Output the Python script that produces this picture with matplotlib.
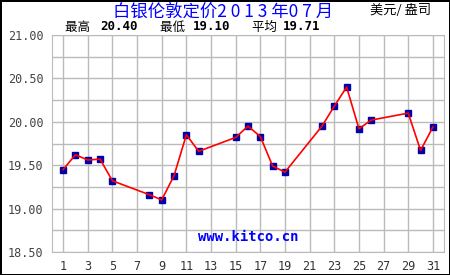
import matplotlib
matplotlib.use('Agg')
import matplotlib.pyplot as plt
import numpy as np

plt.rcParams['font.family'] = ['Noto Sans CJK SC', 'DejaVu Sans']

# 白银伦敦定价 2013年07月 (美元/盎司)
days = [1, 2, 3, 4, 5, 8, 9, 10, 11, 12, 15, 16, 17, 18, 19, 22, 23, 24, 25, 26, 29, 30, 31]
price = [19.45, 19.62, 19.56, 19.57, 19.32, 19.16, 19.10, 19.38, 19.85, 19.66,
         19.82, 19.95, 19.83, 19.49, 19.42, 19.95, 20.18, 20.40, 19.92, 20.02,
         20.10, 19.67, 19.94]
xticks = list(range(1, 32, 2))
yticks = [18.50, 19.00, 19.50, 20.00, 20.50, 21.00]

fig = plt.figure(figsize=(4.5, 2.75), dpi=100)
fig.patch.set_edgecolor('black')
fig.patch.set_linewidth(2)

ax = fig.add_axes([52/450, 23/275, 392/450, 217/275])
ax.set_xlim(0.1, 31.9)
ax.set_ylim(18.5, 21.0)

ax.set_xticks(xticks)
ax.set_xticklabels([str(d) for d in xticks], family='DejaVu Sans Mono', fontsize=8.5, color='#333333')
grid_y = np.arange(18.5, 21.01, 0.25)
ax.set_yticks(grid_y)
ax.set_yticklabels([('%.2f' % v) if v in yticks else '' for v in grid_y],
                   family='DejaVu Sans Mono', fontsize=8.5, color='#444444')
ax.tick_params(length=0, pad=6)
ax.grid(True, color='#bbbbbb', linewidth=1)
ax.set_axisbelow(True)
for s in ax.spines.values():
    s.set_color('#bbbbbb')

ax.plot(days, price, color='red', linewidth=1.2, zorder=3)
ax.plot(days, price, linestyle='none', marker='s', markersize=5,
        markerfacecolor='#0000aa', markeredgecolor='#0000aa', zorder=2)

ax.text(0.5, 0.035, 'www.kitco.cn', transform=ax.transAxes, ha='center', va='bottom',
        color='#0000ff', family='DejaVu Sans Mono', fontweight='bold', fontsize=10)

fig.text(223/450, 1 - 12/275, '白银伦敦定价2 0 1 3 年0 7 月', ha='center', va='center',
         color='#0000ff', fontsize=12.5)
fig.text(401/450, 1 - 10/275, '美元/ 盎司', ha='center', va='center', color='black', fontsize=9.5)
fig.text(65/450, 1 - 27/275, '最高 ', ha='left', va='center', fontsize=9)
fig.text(100/450, 1 - 27/275, '20.40', ha='left', va='center', fontsize=9,
         family='DejaVu Sans Mono', fontweight='bold')
fig.text(160/450, 1 - 27/275, '最低 ', ha='left', va='center', fontsize=9)
fig.text(193/450, 1 - 27/275, '19.10', ha='left', va='center', fontsize=9,
         family='DejaVu Sans Mono', fontweight='bold')
fig.text(252/450, 1 - 27/275, '平均 ', ha='left', va='center', fontsize=9)
fig.text(283/450, 1 - 27/275, '19.71', ha='left', va='center', fontsize=9,
         family='DejaVu Sans Mono', fontweight='bold')

fig.savefig('out.png', dpi=100, edgecolor=fig.get_edgecolor())
